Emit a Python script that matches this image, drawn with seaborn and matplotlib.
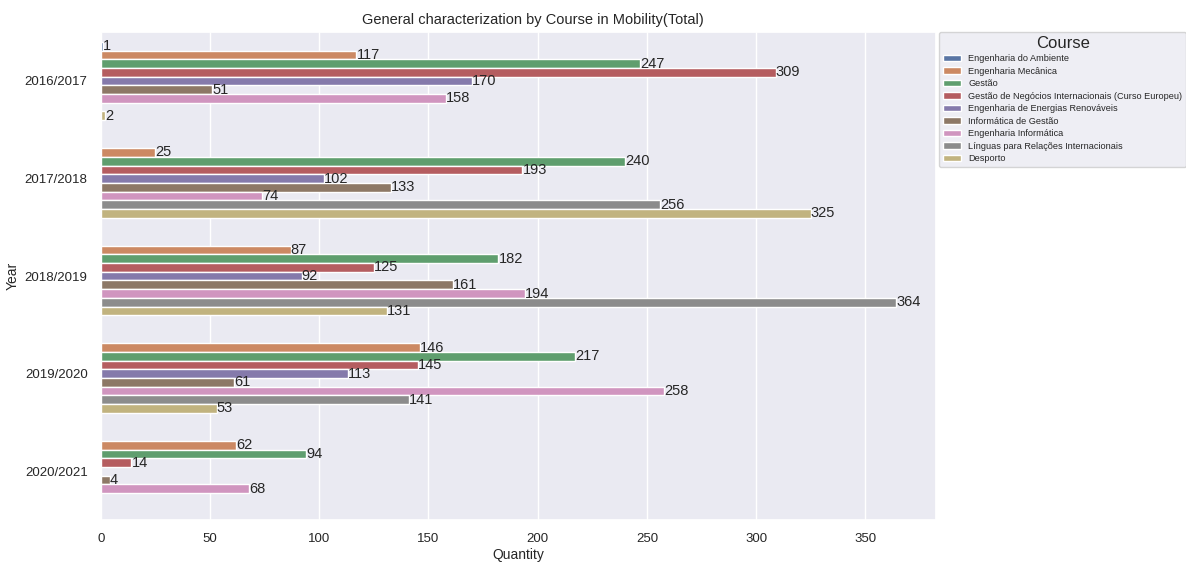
import matplotlib
matplotlib.use("Agg")
import matplotlib.pyplot as plt
import numpy as np
import pandas as pd
import seaborn as sns

years = ["2016/2017", "2017/2018", "2018/2019", "2019/2020", "2020/2021"]
courses = ["Engenharia do Ambiente", "Engenharia Mecânica", "Gestão",
           "Gestão de Negócios Internacionais (Curso Europeu)",
           "Engenharia de Energias Renováveis", "Informática de Gestão",
           "Engenharia Informática", "Línguas para Relações Internacionais",
           "Desporto"]

nan = np.nan
ambiente = [1, nan, nan, nan, nan]
mecanica = [117, 25, 87, 146, 62]
gestao = [247, 240, 182, 217, 94]
gni = [309, 193, 125, 145, 14]
renovaveis = [170, 102, 92, 113, nan]
info_gestao = [51, 133, 161, 61, 4]
informatica = [158, 74, 194, 258, 68]
linguas = [nan, 256, 364, 141, nan]
desporto = [2, 325, 131, 53, nan]

series = [ambiente, mecanica, gestao, gni, renovaveis, info_gestao,
          informatica, linguas, desporto]

rows = []
for course, vals in zip(courses, series):
    for y, v in zip(years, vals):
        if not np.isnan(v):
            rows.append({"Year": y, "Course": course, "Quantity": v})
df = pd.DataFrame(rows)

sns.set_theme(style="darkgrid")
plt.rcParams['font.family'] = ['Liberation Sans', 'DejaVu Sans']

fig, ax = plt.subplots(figsize=(11.86, 5.63), dpi=100)
fig.subplots_adjust(left=0.085, right=0.789, bottom=0.076, top=0.943)

sns.barplot(data=df, y="Year", x="Quantity", hue="Course", order=years,
            hue_order=courses, orient="h", ax=ax)

for c in ax.containers:
    ax.bar_label(c, fontsize=10.5, padding=0, color="#262626")

ax.set_title("General characterization by Course in Mobility(Total)", fontsize=10.5, x=0.518)
ax.set_xlabel("Quantity", fontsize=10, labelpad=2)
ax.set_ylabel("Year", fontsize=10)
ax.tick_params(labelsize=9.5)

leg = ax.legend(title="Course", loc="upper left", bbox_to_anchor=(1.004, 1.0),
                fontsize=6.6, title_fontsize=12, borderaxespad=0,
                labelspacing=0.38)

fig.savefig("out.png", dpi=100)
